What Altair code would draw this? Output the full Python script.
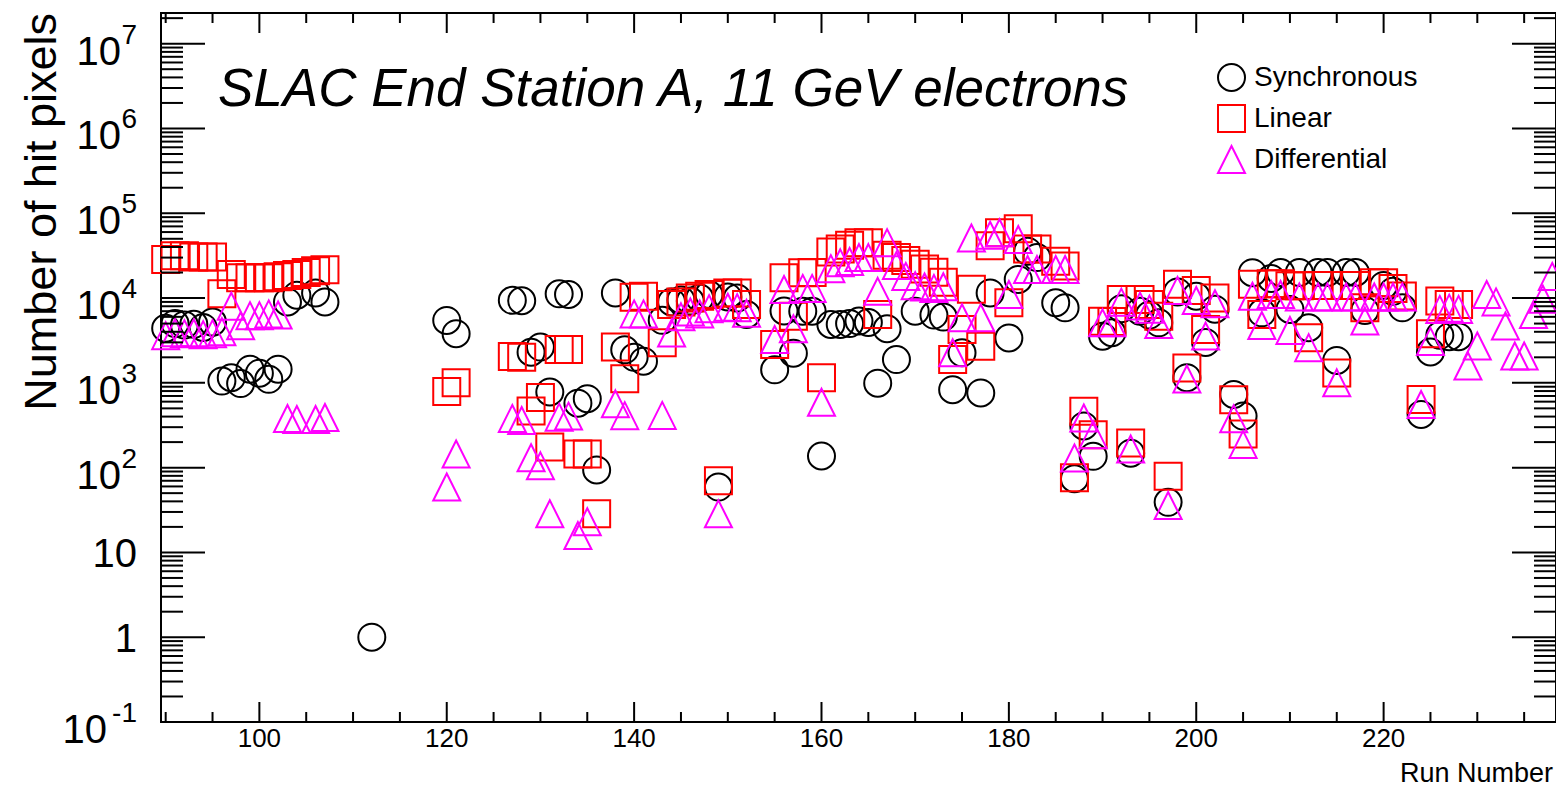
import altair as alt
import pandas as pd

# ---- hit-pixel counts per run, one list pair per front-end flavour ----
SYNC_RUNS = [90, 91, 92, 93, 94, 95, 96, 97, 98, 99, 100, 101, 102, 103, 104, 106, 107, 112,
             120, 121, 127, 128, 129, 130, 131, 132, 133, 134, 135, 136, 138, 139, 140, 141,
             143, 144, 145, 146, 147, 148, 149, 150, 151, 152, 155, 156, 157, 158, 159, 160,
             161, 162, 163, 164, 165, 166, 167, 168, 170, 172, 173, 174, 175, 177, 178, 180,
             181, 182, 183, 185, 186, 187, 188, 189, 190, 191, 192, 193, 194, 195, 196, 197,
             198, 199, 200, 201, 202, 204, 205, 206, 207, 208, 209, 210, 211, 212, 213, 214,
             215, 216, 217, 218, 220, 221, 222, 224, 225, 226, 227, 228]
SYNC_HITS = [4400, 5000, 4800, 4900, 4500, 5200, 1050, 1150, 980, 1450, 1300, 1100, 1450, 9000, 10800, 11500, 9000, 1.0,
             5450, 3800, 9400, 9300, 2300, 2640, 780, 11200, 11000, 575, 650, 94, 11500, 2450, 2000, 1800,
             5460, 9000, 9500, 9200, 10000, 11000, 59, 10300, 10000, 6400, 1425, 7030, 2240, 7000, 7000, 137,
             4890, 4890, 5000, 5350, 5150, 990, 4340, 1880, 7000, 6300, 5960, 830, 2260, 760, 11500, 3380,
             16600, 35700, 30000, 8800, 7670, 74, 310, 136, 3550, 3900, 7500, 148, 7000, 6300, 5100, 39,
             11800, 1150, 10500, 3000, 7400, 730, 405, 19900, 6700, 17000, 20000, 7350, 20000, 4460, 20000, 20000,
             1840, 20000, 20000, 7150, 14100, 12000, 7670, 424, 2310, 3630, 3500, 3500]

LIN_RUNS = [90, 91, 92, 93, 94, 95, 96, 97, 98, 99, 100, 101, 102, 103, 104, 105, 106, 107,
            120, 121, 127, 128, 129, 130, 131, 132, 133, 134, 135, 136, 138, 139, 140, 141,
            143, 144, 145, 146, 147, 148, 149, 150, 151, 152, 155, 156, 157, 158, 159, 160,
            161, 162, 163, 164, 165, 166, 167, 168, 169, 170, 171, 172, 173, 174, 175, 176,
            177, 178, 179, 180, 181, 182, 183, 185, 186, 187, 188, 189, 190, 191, 192, 193,
            194, 195, 196, 197, 198, 199, 200, 201, 202, 204, 205, 206, 207, 208, 209, 210,
            211, 212, 213, 214, 215, 216, 217, 218, 219, 220, 221, 222, 224, 225, 226, 227, 228]
LIN_HITS = [28500, 31500, 31500, 30500, 30500, 30500, 11200, 19000, 17400, 17400, 17400, 17400, 17800, 18500, 19000, 20000, 21000, 21500,
            790, 1000, 2040, 2000, 465, 670, 175, 2470, 2470, 145, 145, 28.6, 2640, 1120, 10200, 10500,
            2970, 8400, 9000, 10000, 10500, 11000, 70, 11500, 11500, 8400, 2840, 17400, 6100, 19900, 20000, 1150,
            35000, 38000, 42000, 45000, 45000, 6400, 32000, 30000, 27700, 25000, 22000, 20200, 15400, 1880, 4250, 12700,
            2700, 41500, 59000, 8800, 65600, 38000, 38000, 27200, 23800, 76, 463, 245, 5340, 5300, 9600, 195,
            9600, 8400, 6120, 79, 14500, 1500, 12300, 4260, 10000, 630, 250, 14500, 6400, 14700, 14700, 14000,
            14000, 3400, 14100, 14100, 1310, 14100, 14100, 7700, 15200, 15200, 13000, 10600, 637, 3800, 9200, 8400, 8400]

DIFF_RUNS = [90, 91, 92, 93, 94, 95, 96, 97, 98, 99, 100, 101, 102, 103, 104, 106, 107,
             120, 121, 127, 128, 129, 130, 131, 132, 133, 134, 135, 138, 139, 140, 141,
             143, 144, 145, 146, 147, 148, 149, 150, 151, 152, 155, 156, 157, 158, 159, 160,
             161, 162, 163, 164, 165, 166, 167, 168, 169, 170, 171, 172, 173, 174, 175, 176,
             177, 178, 179, 180, 181, 182, 183, 185, 186, 187, 188, 189, 190, 191, 192, 193,
             194, 195, 196, 197, 198, 199, 200, 201, 202, 204, 205, 206, 207, 208, 209, 210,
             211, 212, 213, 214, 215, 216, 217, 218, 219, 220, 221, 222, 224, 225, 226, 227, 228,
             229, 230, 231, 232, 233, 234, 235, 236, 237, 238]
DIFF_HITS = [3600, 3900, 3800, 3900, 3700, 3800, 4000, 8000, 4700, 6200, 6200, 6500, 6300, 380, 370, 370, 390,
             59, 145, 380, 360, 131, 105, 28.6, 394, 405, 15.8, 23, 565, 410, 6500, 6500,
             413, 3860, 6000, 6850, 6500, 7500, 28.5, 7800, 7700, 6600, 3250, 12600, 4350, 13000, 13000, 590,
             22200, 26000, 27000, 30000, 30000, 12000, 45000, 24200, 18000, 14000, 13500, 13000, 13600, 2260, 5850, 51000,
             5850, 55000, 59000, 11000, 49000, 21700, 21700, 21700, 21700, 130, 385, 245, 5100, 5100, 8950, 166,
             8030, 7400, 4880, 35.7, 12300, 1110, 9350, 3560, 8550, 376, 188, 10500, 4750, 11000, 11000, 4150,
             10300, 2600, 10300, 10300, 1000, 10300, 10300, 5350, 10300, 10300, 10300, 10300, 556, 3080, 7350, 7600, 7350,
             1580, 2720, 11000, 9000, 4680, 2070, 2070, 6400, 9700, 18000]

SERIES = ["Synchronous", "Linear", "Differential"]
COLORS = ["#000000", "#ff0000", "#ff00ff"]
TRIANGLE = "M0,-1L1,1L-1,1Z"
SHAPES = ["circle", "square", TRIANGLE]

# axis decorations
X_MAJOR = [100, 120, 140, 160, 180, 200, 220]
X_MINOR = [90, 95, 105, 110, 115, 125, 130, 135, 145, 150, 155, 165, 170, 175,
           185, 190, 195, 205, 210, 215, 225, 230, 235]
Y_MAJOR = [0.1, 1, 10, 100, 1e3, 1e4, 1e5, 1e6, 1e7]
Y_BASE = ["10", "1", "10", "10", "10", "10", "10", "10", "10"]
Y_EXP = ["-1", "", "", "2", "3", "4", "5", "6", "7"]
Y_MINOR = [m * d for d in [0.1, 1, 10, 100, 1e3, 1e4, 1e5, 1e6] for m in range(2, 10)] + [2e7]

TITLE = "SLAC End Station A, 11 GeV electrons"
X_TITLE = "Run Number"
Y_TITLE = "Number of hit pixels"

FONT = "Liberation Sans"
W, H = 1395, 709

rows = []
for k, (name, runs, hits) in enumerate(zip(SERIES, [SYNC_RUNS, LIN_RUNS, DIFF_RUNS],
                                           [SYNC_HITS, LIN_HITS, DIFF_HITS])):
    for r, v in zip(runs, hits):
        rows.append({"run": r, "hits": v, "series": name, "k": k})
df = pd.DataFrame(rows)

x_scale = alt.Scale(domain=[89.5, 238.4], nice=False, zero=False)
y_scale = alt.Scale(type="log", domain=[0.1, 2.3e7], nice=False)

legend = alt.Legend(orient="none", legendX=1056, legendY=50, title=None,
                    labelFont=FONT, labelFontSize=28, labelColor="black", labelLimit=0,
                    symbolSize=729, symbolStrokeWidth=2, rowPadding=6,
                    labelOffset=8, padding=0)

points = alt.Chart(df).mark_point(filled=False, strokeWidth=2, size=729, opacity=1).encode(
    x=alt.X("run:Q", scale=x_scale, axis=None),
    y=alt.Y("hits:Q", scale=y_scale, axis=None),
    color=alt.Color("series:N", scale=alt.Scale(domain=SERIES, range=COLORS), legend=legend),
    shape=alt.Shape("series:N", scale=alt.Scale(domain=SERIES, range=SHAPES), legend=legend),
    order=alt.Order("k:Q"),
)


def y_ticks(values, length, right):
    x0 = W if right else 0
    x1 = W - length if right else length
    return alt.Chart(pd.DataFrame({"v": values})).mark_rule(color="black", strokeWidth=2).encode(
        y=alt.Y("v:Q", scale=y_scale, axis=None), x=alt.value(x0), x2=alt.value(x1))


def x_ticks(values, length, top):
    y0 = 0 if top else H
    y1 = length if top else H - length
    return alt.Chart(pd.DataFrame({"v": values})).mark_rule(color="black", strokeWidth=2).encode(
        x=alt.X("v:Q", scale=x_scale, axis=None), y=alt.value(y0), y2=alt.value(y1))


ticks = [
    y_ticks(Y_MAJOR, 44, False), y_ticks(Y_MINOR, 22, False),
    y_ticks(Y_MAJOR, 44, True), y_ticks(Y_MINOR, 22, True),
    x_ticks(X_MAJOR, 20, False), x_ticks(X_MINOR, 10, False),
    x_ticks(X_MAJOR, 20, True), x_ticks(X_MINOR, 10, True),
]

# tick labels, ROOT style: "10" with a raised exponent
ylab = pd.DataFrame({"v": Y_MAJOR, "base": Y_BASE, "exp": Y_EXP})
LAB_RIGHT = -24
base_with_exp = alt.Chart(ylab).transform_filter("datum.exp != ''").transform_calculate(
    bx=f"{LAB_RIGHT} - 2 - length(datum.exp) * 14"
).mark_text(align="right", baseline="alphabetic", font=FONT, fontSize=40, dy=21, color="black").encode(
    y=alt.Y("v:Q", scale=y_scale, axis=None), x=alt.X("bx:Q", scale=None), text="base:N")
exponents = alt.Chart(ylab).transform_filter("datum.exp != ''").mark_text(
    align="right", baseline="alphabetic", font=FONT, fontSize=28, dy=0, color="black").encode(
    y=alt.Y("v:Q", scale=y_scale, axis=None), x=alt.value(LAB_RIGHT), text="exp:N")
plain = alt.Chart(ylab).transform_filter("datum.exp == ''").mark_text(
    align="right", baseline="alphabetic", font=FONT, fontSize=40, dy=15, color="black").encode(
    y=alt.Y("v:Q", scale=y_scale, axis=None), x=alt.value(LAB_RIGHT), text="base:N")

xlab = alt.Chart(pd.DataFrame({"v": X_MAJOR})).mark_text(
    align="center", baseline="alphabetic", font=FONT, fontSize=26, color="black").encode(
    x=alt.X("v:Q", scale=x_scale, axis=None), y=alt.value(H + 25), text=alt.Text("v:Q", format="d"))

x_title = alt.Chart(pd.DataFrame({"t": [X_TITLE]})).mark_text(
    align="right", baseline="alphabetic", font=FONT, fontSize=27, color="black").encode(
    text="t:N", x=alt.value(W - 3), y=alt.value(H + 60))

y_title = alt.Chart(pd.DataFrame({"t": [Y_TITLE]})).mark_text(
    align="right", baseline="top", angle=270, font=FONT, fontSize=45, color="black").encode(
    text="t:N", x=alt.value(-141), y=alt.value(0))

title = alt.Chart(pd.DataFrame({"t": [TITLE]})).mark_text(
    align="left", baseline="alphabetic", font=FONT, fontSize=53, fontStyle="italic", color="black"
).encode(text="t:N", x=alt.value(57), y=alt.value(93))

chart = alt.layer(points, *ticks, base_with_exp, exponents, plain, xlab, x_title, y_title, title).properties(
    width=W, height=H,
    background="white",
    autosize=alt.AutoSizeParams(type="none"),
    padding={"left": 161, "top": 13, "right": 0, "bottom": 66},
).configure_view(stroke="black", strokeWidth=2)

chart.save("out.html", embed_options={"renderer": "svg", "actions": False})
